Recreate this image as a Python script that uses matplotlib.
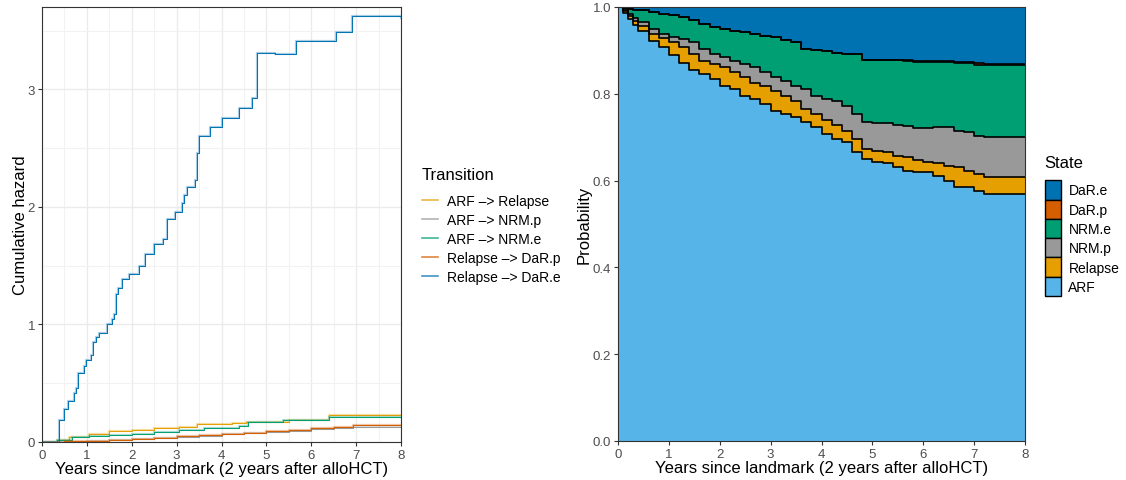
import numpy as np
import matplotlib
matplotlib.use("Agg")
from matplotlib import pyplot as plt
from matplotlib.lines import Line2D
from matplotlib.patches import Patch

plt.rcParams['font.family'] = ['Liberation Sans', 'DejaVu Sans']

# ---- left panel: cumulative hazards (step functions, value after jump) ----
t_dare = [0, 0.37, 0.49, 0.59, 0.72, 0.76, 0.81, 0.94, 0.97, 1.09, 1.14, 1.20, 1.27,
          1.44, 1.55, 1.60, 1.65, 1.70, 1.79, 1.94, 2.17, 2.30, 2.49, 2.70, 2.79,
          2.97, 3.11, 3.16, 3.24, 3.41, 3.45, 3.49, 3.75, 4.00, 4.38, 4.67, 4.78,
          5.20, 5.67, 6.55, 6.91, 8.0]
v_dare = [0, 0.19, 0.28, 0.35, 0.42, 0.46, 0.59, 0.65, 0.70, 0.74, 0.85, 0.89, 0.93,
          1.00, 1.05, 1.09, 1.26, 1.31, 1.39, 1.43, 1.50, 1.60, 1.68, 1.73, 1.90,
          1.96, 2.03, 2.10, 2.17, 2.23, 2.46, 2.60, 2.68, 2.76, 2.84, 2.93, 3.31,
          3.30, 3.41, 3.49, 3.62, 3.61]

t_relapse = [0, 0.33, 0.6, 1.04, 1.5, 2.0, 2.5, 3.05, 3.46, 4.24, 4.54, 5.5, 6.4, 8.0]
v_relapse = [0, 0.02, 0.04, 0.07, 0.09, 0.105, 0.115, 0.125, 0.153, 0.161, 0.173,
             0.185, 0.229, 0.229]

t_nrme = [0, 0.33, 0.67, 1.04, 1.5, 2.0, 2.5, 3.05, 3.6, 4.39, 4.58, 5.36, 6.4, 7.14, 8.0]
v_nrme = [0, 0.02, 0.042, 0.054, 0.062, 0.071, 0.085, 0.099, 0.115, 0.133, 0.17,
          0.19, 0.21, 0.215, 0.215]

t_lin = [0, 0.5, 1, 1.5, 2, 2.5, 3, 3.5, 4, 4.5, 5, 5.5, 6, 6.5, 6.92, 8.0]
v_darp = [0, 0.005, 0.012, 0.02, 0.028, 0.038, 0.048, 0.057, 0.066, 0.078, 0.09,
          0.10, 0.115, 0.128, 0.147, 0.147]
v_nrmp = [0, 0.004, 0.01, 0.018, 0.026, 0.035, 0.045, 0.055, 0.064, 0.075, 0.087,
          0.097, 0.108, 0.115, 0.125, 0.127]

transitions = ["ARF \u2013> Relapse", "ARF \u2013> NRM.p", "ARF \u2013> NRM.e",
               "Relapse \u2013> DaR.p", "Relapse \u2013> DaR.e"]
trans_colors = ["#E69F00", "#999999", "#009E73", "#D55E00", "#0072B2"]

# ---- right panel: stacked state probabilities (upper edge of each band) ----
times = [0, 0.1, 0.2, 0.3] + [round(0.4 + 0.2 * i, 1) for i in range(39)]
top_arf = [1.0, .986, .972, .958, .945, .922, .907, .890, .870, .855, .845, .834, .819,
           .811, .796, .788, .776, .761, .753, .746, .734, .723, .708, .696, .688, .665,
           .650, .642, .641, .631, .623, .620, .619, .611, .600, .585, .585, .577, .569,
           .569, .569, .569, .569]
top_relapse = [1.0, .991, .980, .968, .957, .938, .928, .919, .907, .892, .876, .869,
               .861, .850, .838, .826, .817, .807, .796, .784, .765, .753, .740, .727,
               .715, .696, .673, .669, .667, .657, .654, .648, .642, .641, .634, .631,
               .623, .615, .608, .608, .608, .608, .608]
top_nrmp = [1.0, .994, .984, .975, .965, .949, .938, .932, .926, .919, .903, .892, .884,
            .876, .869, .861, .850, .838, .830, .819, .811, .796, .789, .783, .773, .753,
            .736, .733, .733, .728, .725, .721, .721, .723, .723, .715, .713, .703, .700,
            .700, .700, .700, .700]
top_nrme = [1.0, .998, .995, .994, .993, .989, .984, .982, .976, .971, .961, .953, .949,
            .945, .942, .938, .934, .930, .925, .920, .903, .901, .898, .894, .892, .892,
            .879, .878, .878, .878, .876, .874, .874, .874, .874, .871, .871, .867, .866,
            .866, .866, .866, .866]
p_darp = [0] * 30 + [.002] * 5 + [.003] * 8

states = ["ARF", "Relapse", "NRM.p", "NRM.e", "DaR.p", "DaR.e"]
state_colors = ["#56B4E9", "#E69F00", "#999999", "#009E73", "#D55E00", "#0072B2"]

fig = plt.figure(figsize=(11.26, 4.81), dpi=100)
ax1 = fig.add_axes([42/1126, 38/481, 359/1126, 435/481])
ax2 = fig.add_axes([618/1126, 39/481, 407/1126, 434/481])

tick_col = "#4D4D4D"

# left
curves = [(t_relapse, v_relapse), (t_lin, v_nrmp), (t_nrme, v_nrme),
          (t_lin, v_darp), (t_dare, v_dare)]
for (tt, vv), col in zip(curves, trans_colors):
    ax1.step(tt, vv, where='post', color=col, lw=1.6, alpha=0.35)
    ax1.step(tt, vv, where='post', color=col, lw=0.7)
ax1.set_xlim(0, 8)
ax1.set_ylim(0, 3.70)
ax1.set_xticks(range(9))
ax1.set_yticks([0, 1, 2, 3])
ax1.set_xticks(np.arange(0.5, 8, 1), minor=True)
ax1.set_yticks([0.5, 1.5, 2.5, 3.5], minor=True)
ax1.grid(True, which='major', color='#EBEBEB', lw=1.0)
ax1.grid(True, which='minor', color='#F2F2F2', lw=0.8)
ax1.set_axisbelow(True)
for s in ax1.spines.values():
    s.set_color('#333333')
    s.set_linewidth(0.8)
ax1.tick_params(which='major', length=3, color='#333333', labelsize=9.5,
                labelcolor=tick_col, pad=2)
ax1.tick_params(which='minor', length=0)
ax1.set_xlabel("Years since landmark (2 years after alloHCT)", fontsize=12, labelpad=0)
ax1.set_ylabel("Cumulative hazard", fontsize=12, labelpad=0)

# right
tops = np.array([top_arf, top_relapse, top_nrmp, top_nrme])
tops = np.vstack([tops, tops[-1] + np.array(p_darp), np.ones(len(times))])
lower = np.zeros(len(times))
for i, col in enumerate(state_colors):
    ax2.fill_between(times, lower, tops[i], step='post', color=col, lw=0)
    lower = tops[i]
for i in range(len(states) - 1):
    ax2.step(times, tops[i], where='post', color='black', lw=1.2)
ax2.set_xlim(0, 8)
ax2.set_ylim(0, 1)
ax2.set_xticks(range(9))
ax2.set_yticks(np.arange(0, 1.01, 0.2))
ax2.set_yticklabels([f"{v:.1f}" for v in np.arange(0, 1.01, 0.2)])
for s in ax2.spines.values():
    s.set_color('#333333')
    s.set_linewidth(0.8)
ax2.tick_params(length=3, color='#333333', labelsize=9.5, labelcolor=tick_col, pad=2)
ax2.set_xlabel("Years since landmark (2 years after alloHCT)", fontsize=12, labelpad=0)
ax2.set_ylabel("Probability", fontsize=12, labelpad=1)

# legends
h1 = [Line2D([], [], color=c, lw=1.2, alpha=0.75) for c in trans_colors]
leg1 = fig.legend(h1, transitions, loc='upper left', bbox_to_anchor=(409/1126, 1 - 155/481),
                  frameon=False, title="Transition", fontsize=10, title_fontsize=12,
                  handlelength=1.2, handletextpad=0.65, labelspacing=0.36,
                  alignment='left')
leg1._legend_box.sep = 8.8

h2 = [Patch(facecolor=c, edgecolor='black', lw=1.0) for c in state_colors[::-1]]
leg2 = fig.legend(h2, states[::-1], loc='upper left', bbox_to_anchor=(1032/1126, 1 - 144/481),
                  frameon=False, title="State", fontsize=10, title_fontsize=12,
                  handlelength=1.22, handleheight=1.76, handletextpad=0.5,
                  labelspacing=0.0, alignment='left')
leg2._legend_box.sep = 7

fig.savefig("out.png", dpi=100)
